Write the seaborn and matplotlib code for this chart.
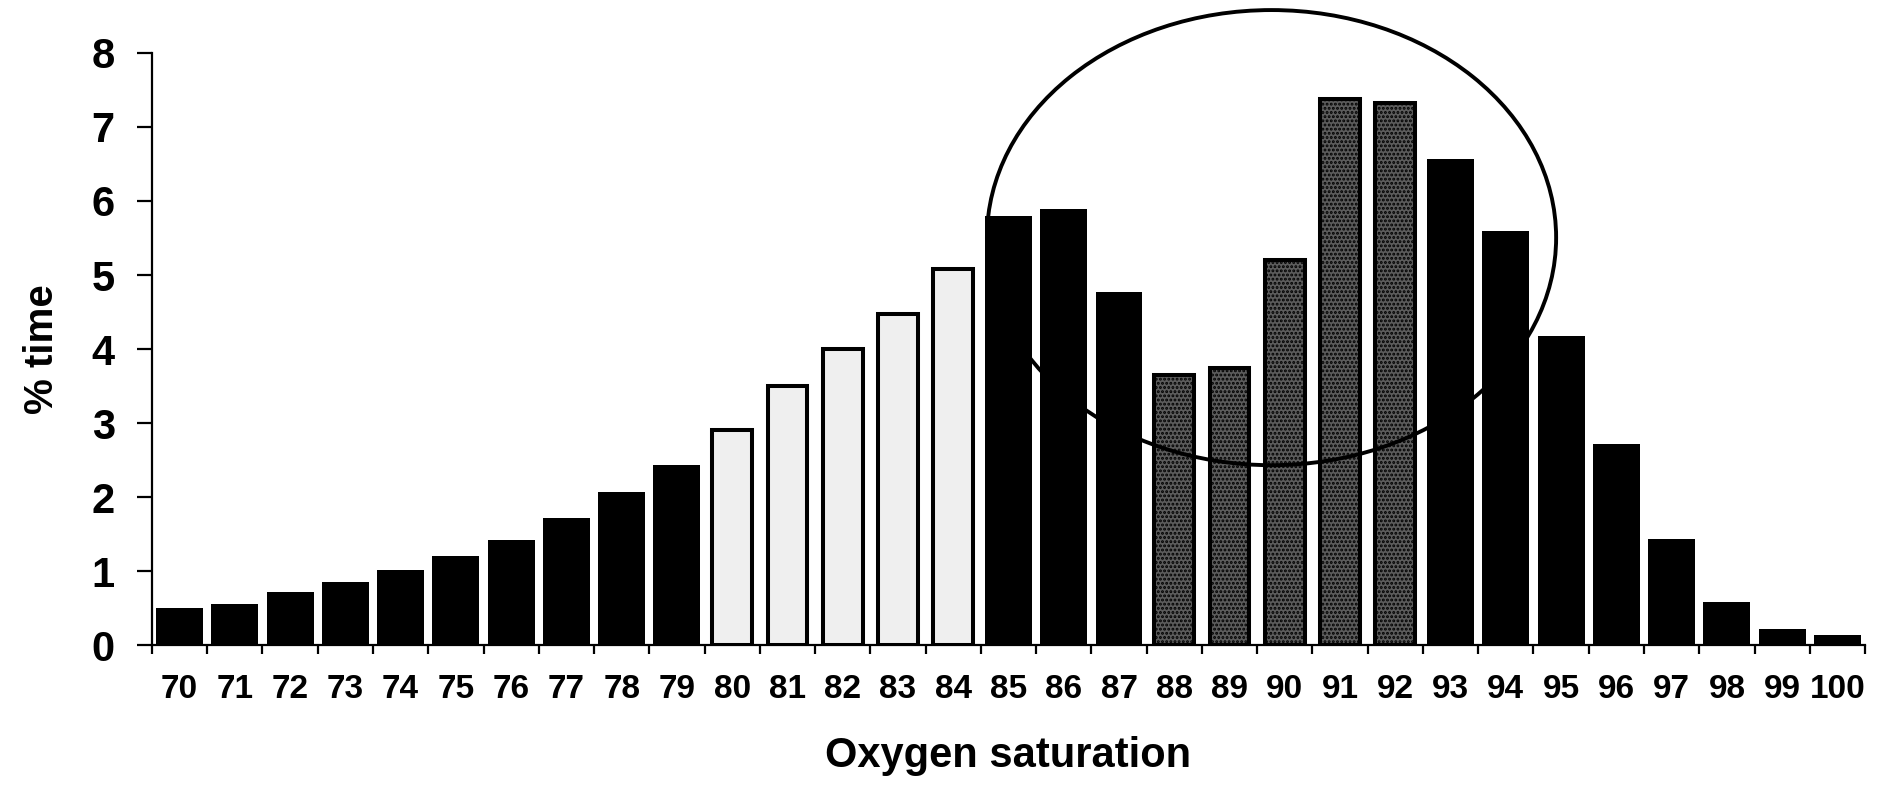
# Oxygen saturation histogram (% time at each SpO2 value)
import numpy as np
import pandas as pd
import seaborn as sns
import matplotlib.pyplot as plt
from matplotlib.patches import Ellipse

# values
saturation = ["70", "71", "72", "73", "74", "75", "76", "77", "78", "79",
              "80", "81", "82", "83", "84", "85", "86", "87", "88", "89",
              "90", "91", "92", "93", "94", "95", "96", "97", "98", "99", "100"]
pct_time = [0.50, 0.55, 0.72, 0.85, 1.02, 1.20, 1.42, 1.72, 2.07, 2.43,
            2.90, 3.50, 4.00, 4.47, 5.08, 5.80, 5.89, 4.77, 3.65, 3.75,
            5.20, 7.38, 7.32, 6.57, 5.59, 4.17, 2.72, 1.43, 0.58, 0.22, 0.13]
bar_group = ["solid"] * 10 + ["light"] * 5 + ["solid"] * 3 + ["dark"] * 5 + ["solid"] * 8
y_ticks = [0, 1, 2, 3, 4, 5, 6, 7, 8]

data = pd.DataFrame({"saturation": saturation, "pct_time": pct_time, "group": bar_group})

sns.set_style("ticks")
plt.rcParams['font.family'] = ['Liberation Sans', 'DejaVu Sans']
plt.rcParams['font.weight'] = 'bold'
plt.rcParams['hatch.linewidth'] = 1.4
for key in ['text.color', 'axes.labelcolor', 'xtick.color', 'ytick.color', 'axes.edgecolor']:
    plt.rcParams[key] = 'black'

fig = plt.figure(figsize=(18.78, 7.85), dpi=100)
ax = fig.add_axes([0.0809, 0.1783, 0.9122, 0.7542])

sns.barplot(data=data, x="saturation", y="pct_time", color="black",
            saturation=1, width=0.85, ax=ax)

# restyle the patterned bars
for patch, grp in zip(ax.patches, data["group"]):
    if grp == "solid":
        patch.set_facecolor("black")
        patch.set_linewidth(0)
        continue
    cx = patch.get_x() + patch.get_width() / 2
    patch.set_width(0.72)
    patch.set_x(cx - 0.36)
    patch.set_edgecolor("black")
    patch.set_linewidth(2.9)
    if grp == "light":
        patch.set_facecolor("#efefef")
    else:
        patch.set_facecolor("#5c5c5c")
        patch.set_hatch("....")

# circled region
ell = Ellipse((19.76, 5.505), 10.3, 6.15, fill=False, edgecolor="black",
              linewidth=2.8, clip_on=False, zorder=5)
ax.add_patch(ell)

ax.set_xlim(-0.5, 30.5)
ax.set_ylim(0, 8)

# ticks between the bars, labels under the bars
ax.set_xticks(np.arange(-0.5, 31, 1))
ax.set_xticks(np.arange(len(saturation)), labels=saturation, minor=True)
ax.tick_params(axis="x", which="major", length=6.5, width=1.6, labelbottom=False)
ax.tick_params(axis="x", which="minor", length=0, pad=21, labelsize=24)
ax.set_yticks(y_ticks)
ax.tick_params(axis="y", length=10.8, width=1.6, pad=16, labelsize=30)

sns.despine(ax=ax)
for side in ["left", "bottom"]:
    ax.spines[side].set_linewidth(1.6)
    ax.spines[side].set_color("black")

ax.set_xlabel("Oxygen saturation", fontsize=30, fontweight="bold", labelpad=22)
ax.set_ylabel("% time", fontsize=29, fontweight="bold", labelpad=22)

fig.savefig("out.png", dpi=100)
